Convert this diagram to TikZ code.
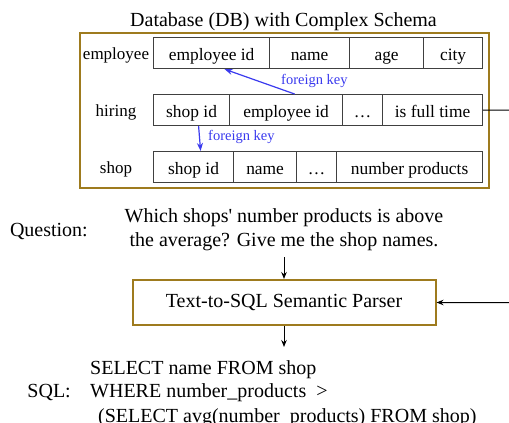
\documentclass[tikz,border=0pt]{standalone}
\usepackage{fontspec}
\setmainfont{Liberation Serif}
\usetikzlibrary{arrows.meta,calc}
\definecolor{gold}{HTML}{9E7B1E}
\definecolor{fkblue}{HTML}{3A3AEE}
\definecolor{cellgray}{HTML}{404040}
\begin{document}
\begin{tikzpicture}[x=1pt,y=-1pt,
  big/.style={font=\fontsize{20}{24}\selectfont, inner sep=0pt},
  rowlab/.style={font=\fontsize{17}{20}\selectfont, anchor=base, inner sep=0pt},
  cell/.style={draw=cellgray, line width=1.2pt, minimum height=31pt, inner sep=0pt,
    text height=17pt, text depth=3pt, font=\fontsize{17.4}{20}\selectfont, anchor=north west},
  goldbox/.style={draw=gold, line width=2pt},
  fk/.style={draw=fkblue, line width=1.2pt, -{Stealth[length=8pt,width=6pt]}},
  fklab/.style={text=fkblue, font=\fontsize{14.5}{17}\selectfont, anchor=base west, inner sep=0pt},
  arr/.style={line width=1pt, -{Stealth[length=7pt,width=5.5pt]}}]
\useasboundingbox (0,0) rectangle (509,423);
\clip (0,0) rectangle (509,423);
% title and outer box
\node[big, anchor=base] (title) at (283.5,26) {Database (DB) with Complex Schema};
\node[goldbox, minimum width=409pt, minimum height=155pt, anchor=north west, inner sep=0pt] (db) at (79,32) {};
% employee row
\node[rowlab] (le) at (116,59) {employee};
\node[cell, minimum width=116pt] (e1) at (153,37) {employee id};
\node[cell, minimum width=80pt] (e2) at (269,37) {name};
\node[cell, minimum width=74pt] (e3) at (349,37) {age};
\node[cell, minimum width=59pt] (e4) at (423,37) {city};
% hiring row
\node[rowlab] (lh) at (116,116) {hiring};
\node[cell, minimum width=76pt] (h1) at (153,94) {shop id};
\node[cell, minimum width=113pt] (h2) at (229,94) {employee id};
\node[cell, minimum width=40pt] (h3) at (342,94) {\dots};
\node[cell, minimum width=100pt] (h4) at (382,94) {is full time};
% shop row
\node[rowlab] (ls) at (116,173) {shop};
\node[cell, minimum width=80pt] (s1c) at (153,151) {shop id};
\node[cell, minimum width=63pt] (s2c) at (233,151) {name};
\node[cell, minimum width=40pt] (s3c) at (296,151) {\dots};
\node[cell, minimum width=146pt] (s4c) at (336,151) {number products};
% foreign keys
\draw[fk] ([xshift=8.5pt]h2.north) -- ([xshift=13pt]e1.south);
\node[fklab] (fk1) at (281,84) {foreign key};
\draw[fk] ([xshift=7pt]h1.south) -- ([xshift=7pt]s1c.north);
\node[fklab] (fk2) at (208,140) {foreign key};
% question
\node[big, anchor=base east] (qlab) at (88,236) {Question:};
\node[big, anchor=base] (q1) at (284,222) {Which shops\textquotesingle{} number products is above};
\node[big, anchor=base] (q2) at (284,246) {the average? Give me the shop names.};
% parser
\node[goldbox, big, minimum width=303pt, minimum height=45pt] (parser) at (284,302.5) {Text-to-SQL Semantic Parser};
\coordinate (qout) at (284,257);
\draw[arr] (qout) -- (parser.north);
\coordinate (sqlin) at (284,347);
\draw[arr] (parser.south) -- (sqlin);
% schema to parser
\coordinate (rt) at (525,110);
\draw[arr] (h4.east) -- (rt) -- (rt |- parser.east) -- (parser.east);
% SQL
\node[big, anchor=base east] (sqllab) at (71,397) {SQL:};
\node[big, anchor=base west] (sq1) at (90,374) {SELECT name FROM shop};
\node[big, anchor=base west] (sq2) at (90,397) {WHERE number\_products~ >};
\node[big, anchor=base west] (sq3) at (98,422) {(SELECT avg(number\_products) FROM shop)};
\end{tikzpicture}
\end{document}
